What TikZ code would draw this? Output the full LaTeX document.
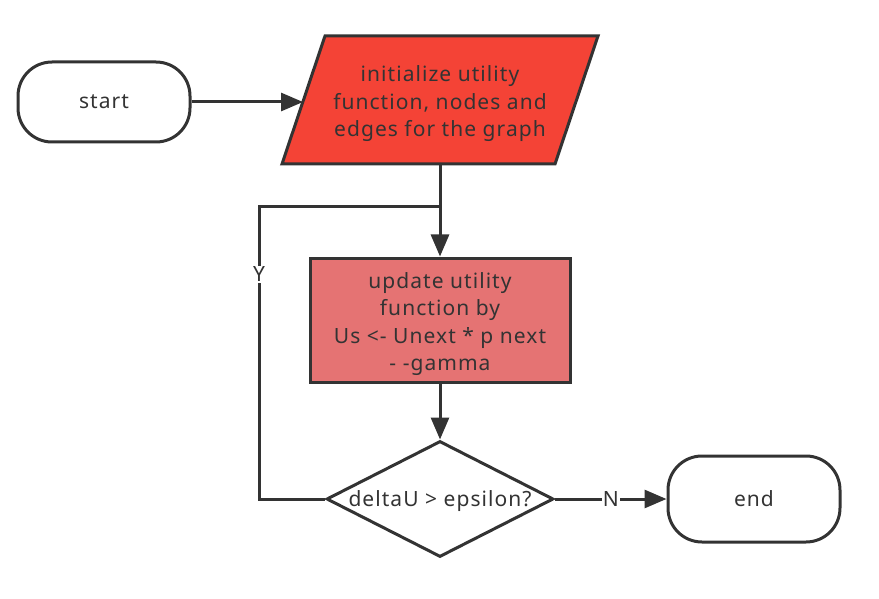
\documentclass[tikz,border=0pt]{standalone}
\usepackage{fontspec}
\setmainfont{Noto Sans}[LetterSpace=5]
\usetikzlibrary{shapes.geometric,arrows.meta}
\definecolor{ink}{HTML}{333333}
\definecolor{redA}{HTML}{F44336}
\definecolor{redB}{HTML}{E57373}
\tikzset{
  every node/.style={text=ink, font=\fontsize{21}{27.5}\selectfont},
  line/.style={draw=ink, line width=3pt},
  arr/.style={line, -{Triangle[length=22pt,width=18pt]}},
  terminal/.style={line, rounded corners=34pt, minimum width=172pt, inner sep=0pt},
  procbox/.style={line, fill=redB, minimum width=260pt, minimum height=124pt, inner sep=0pt},
  lbl/.style={fill=white, inner sep=1pt}
}
\begin{document}
\begin{tikzpicture}[x=1pt,y=-1pt]
\useasboundingbox (0,0) rectangle (879,599);
% start
\node[terminal, minimum height=80pt] (start) at (104,102) {start};
% parallelogram (input)
\coordinate (pTL) at (325,36);
\coordinate (pTR) at (598,36);
\coordinate (pBR) at (555,164);
\coordinate (pBL) at (282,164);
\filldraw[line, fill=redA, line join=miter] (pTL) -- (pTR) -- (pBR) -- (pBL) -- cycle;
\node[align=center] (init) at (440,104) {initialize utility\\function, nodes and\\edges for the graph};
\coordinate (inEntry) at (303,102);
\coordinate (inExit) at (440,164);
% update
\node[procbox] (upd) at (440,320) {};
\node[align=center] (updt) at (440,324) {update utility\\function by\\Us <- Unext * p next\\- -gamma};
% decision
\node[line, fill=white, diamond, minimum width=227pt, minimum height=116pt, inner sep=0pt] (dec) at (440,499) {};
\node (dect) at (440,501) {deltaU > epsilon?};
% end
\node[terminal, minimum height=86pt] (end) at (754,499) {end};
% connectors
\draw[arr] (start.east) -- (inEntry);
\draw[arr] (inExit) -- (upd.north);
\draw[arr] (upd.south) -- (dec.north);
\coordinate (loopA) at (259,499);
\coordinate (loopB) at (259,207);
\coordinate (join) at (440,207);
\draw[line] (dec.west) -- (loopA) -- node[lbl, pos=0.77] (ylab) {Y} (loopB) -- (join);
\draw[arr] (dec.east) -- node[lbl, pos=0.5] (nlab) {N} (end.west);
\end{tikzpicture}
\end{document}
